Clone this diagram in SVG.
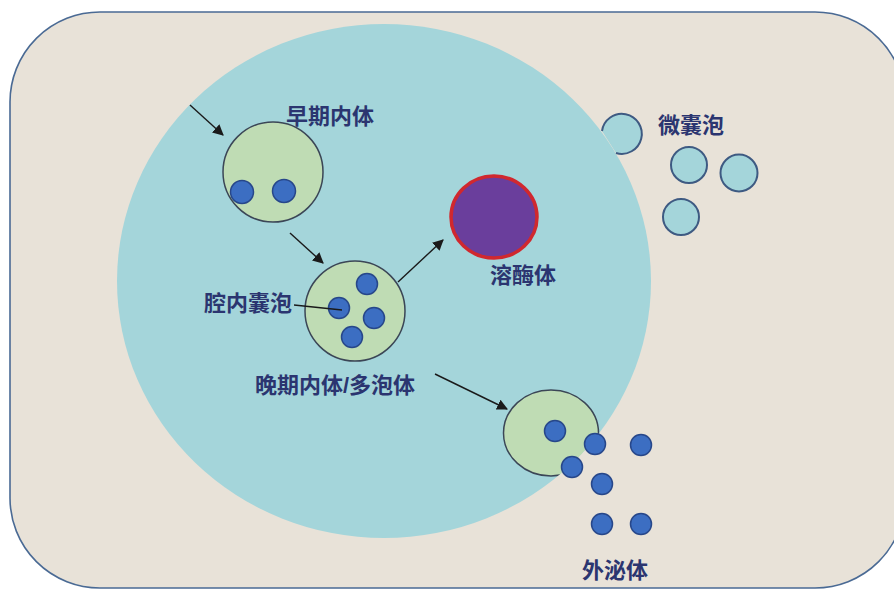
<svg xmlns="http://www.w3.org/2000/svg" width="894" height="589" viewBox="0 0 894 589">
  <style>
    .lbl { font-family: "Liberation Sans", "Noto Sans CJK SC", sans-serif; font-size: 22px; font-weight: bold; fill: #2b3570; }
    .endo { fill: #bfdcb4; stroke: #3b4656; stroke-width: 1.5; }
    .cargo { fill: #3c6ec2; stroke: #27478a; stroke-width: 1.5; }
    .mv { fill: #a4d5da; stroke: #3e5a82; stroke-width: 2; }
    .arrow { fill: none; stroke: #1a1a1a; stroke-width: 1.4; marker-end: url(#head); }
  </style>
  <defs>
    <marker id="head" viewBox="0 0 10 10" refX="9" refY="5" markerWidth="11" markerHeight="11" markerUnits="userSpaceOnUse" orient="auto">
      <path d="M0,0 L10,5 L0,10 z" fill="#1a1a1a"/>
    </marker>
    <clipPath id="cytoClip">
      <ellipse cx="384" cy="281" rx="267" ry="257"/>
    </clipPath>
  </defs>

  <rect width="894" height="589" fill="#ffffff"/>

  <!-- cell -->
  <g id="cell">
    <rect x="10" y="12" width="895" height="576" rx="90" ry="90" fill="#e8e2d8" stroke="#4a6a94" stroke-width="1.6"/>
  </g>

  <!-- cytoplasm region -->
  <g id="cytoplasm">
    <ellipse cx="384" cy="281" rx="267" ry="257" fill="#a4d5da"/>
  </g>

  <!-- early endosome -->
  <g id="early-endosome">
    <circle class="endo" cx="273" cy="172" r="50"/>
    <circle class="cargo" cx="242" cy="192" r="11.5"/>
    <circle class="cargo" cx="284" cy="191" r="11.5"/>
    <text class="lbl" x="286" y="124">早期内体</text>
  </g>

  <!-- late endosome / MVB -->
  <g id="late-endosome">
    <circle class="endo" cx="355" cy="311" r="50"/>
    <circle class="cargo" cx="367" cy="284" r="10.5"/>
    <circle class="cargo" cx="339" cy="308" r="10.5"/>
    <circle class="cargo" cx="374" cy="318" r="10.5"/>
    <circle class="cargo" cx="352" cy="337" r="10.5"/>
    <text class="lbl" x="255" y="393">晚期内体/多泡体</text>
  </g>

  <!-- intraluminal vesicle label -->
  <g id="ilv-label">
    <text class="lbl" x="204" y="311">腔内囊泡</text>
    <line x1="294" y1="305" x2="342" y2="310" stroke="#1a1a1a" stroke-width="1.3"/>
  </g>

  <!-- lysosome -->
  <g id="lysosome">
    <ellipse cx="494" cy="217" rx="43" ry="41" fill="#6a3e9c" stroke="#d0282e" stroke-width="3.5"/>
    <text class="lbl" x="490" y="283">溶酶体</text>
  </g>

  <!-- microvesicles -->
  <g id="microvesicles">
    <path class="mv" d="M602,131 A20,20 0 1 1 616,153"/>
    <circle class="mv" cx="689" cy="165" r="18"/>
    <circle class="mv" cx="739" cy="173" r="18.5"/>
    <circle class="mv" cx="681" cy="217" r="18"/>
    <text class="lbl" x="658" y="133">微囊泡</text>
  </g>

  <!-- MVB fusing with membrane -->
  <g id="fusing-mvb">
    <g clip-path="url(#cytoClip)">
      <ellipse class="endo" cx="551" cy="433" rx="47.5" ry="43"/>
    </g>
    <circle class="cargo" cx="555" cy="431" r="10.5"/>
  </g>

  <!-- exosomes -->
  <g id="exosomes">
    <circle class="cargo" cx="595" cy="444" r="10.5"/>
    <circle class="cargo" cx="641" cy="445" r="10.5"/>
    <circle class="cargo" cx="572" cy="467" r="10.5"/>
    <circle class="cargo" cx="602" cy="484" r="10.5"/>
    <circle class="cargo" cx="602" cy="524" r="10.5"/>
    <circle class="cargo" cx="641" cy="524" r="10.5"/>
    <text class="lbl" x="582" y="578">外泌体</text>
  </g>

  <!-- connectors -->
  <g id="connectors">
    <line class="arrow" x1="190" y1="105" x2="223" y2="135"/>
    <line class="arrow" x1="290" y1="233" x2="323" y2="263"/>
    <line class="arrow" x1="398" y1="282" x2="443" y2="240"/>
    <line class="arrow" x1="435" y1="374" x2="507" y2="409"/>
  </g>
</svg>
